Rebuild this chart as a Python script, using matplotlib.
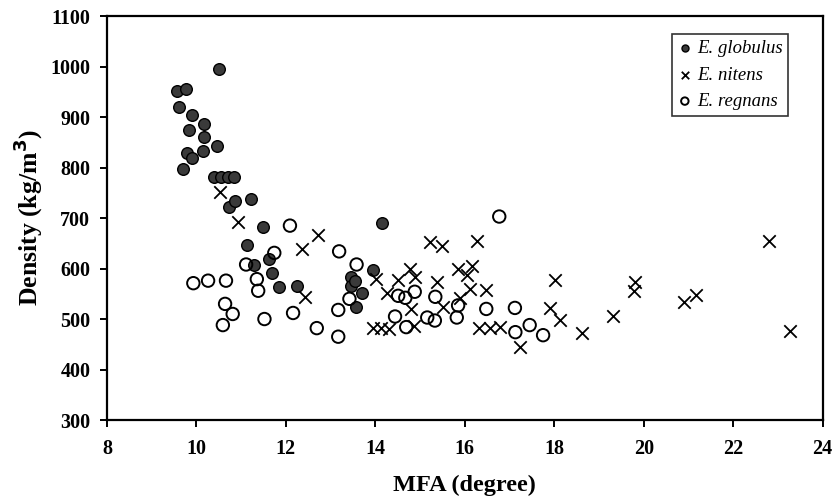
import matplotlib.pyplot as plt

plt.rcParams['font.family'] = ['Liberation Serif', 'DejaVu Serif']

# E. globulus
glob_mfa = [10.50, 9.56, 9.77, 9.61, 9.89, 10.17, 9.84, 10.17, 10.46, 10.14, 9.79, 9.91,
            9.69, 10.40, 10.55, 10.70, 10.85, 10.72, 10.86, 11.23, 11.48, 11.12, 11.28,
            11.62, 11.69, 11.84, 12.25, 13.45, 13.45, 13.55, 13.70, 13.56, 13.95, 14.14]
glob_den = [995, 952, 955, 920, 904, 887, 874, 861, 842, 833, 828, 818,
            798, 782, 782, 782, 782, 722, 733, 737, 683, 646, 607,
            618, 592, 564, 565, 584, 566, 575, 551, 524, 597, 691]

# E. nitens
nit_mfa = [10.53, 10.93, 12.72, 12.35, 12.42, 15.22, 15.50, 16.28, 15.85, 16.15, 16.04,
           14.77, 14.51, 14.88, 14.01, 14.25, 15.37, 15.89, 16.11, 16.48, 14.80, 15.52,
           13.95, 14.12, 14.30, 14.86, 16.31, 16.56, 16.78, 17.23, 18.01, 17.90, 18.12,
           18.62, 19.31, 19.80, 19.78, 20.89, 21.18, 22.80, 23.28]
nit_den = [752, 693, 666, 638, 544, 652, 645, 655, 600, 605, 587,
           600, 577, 584, 579, 551, 573, 542, 559, 557, 520, 524,
           482, 482, 480, 486, 482, 482, 485, 445, 578, 522, 498,
           472, 506, 574, 556, 534, 548, 655, 477]

# E. regnans
reg_mfa = [12.09, 13.19, 11.74, 11.11, 11.35, 11.38, 9.93, 10.26, 10.66, 10.64, 10.81,
           10.59, 11.52, 12.16, 12.69, 13.17, 13.17, 13.42, 13.58, 16.77, 14.51, 14.67,
           14.88, 15.34, 14.44, 14.69, 15.16, 15.33, 15.85, 15.82, 16.48, 17.12, 17.13,
           17.45, 17.75]
reg_den = [685, 634, 631, 608, 579, 556, 571, 576, 576, 530, 510,
           488, 500, 512, 482, 465, 518, 540, 608, 703, 546, 542,
           554, 544, 505, 484, 503, 497, 527, 503, 520, 522, 474,
           488, 468]

fig = plt.figure(figsize=(8.36, 5.03), dpi=100)
ax = fig.add_axes([0.128, 0.165, 0.856, 0.803])

ax.scatter(glob_mfa, glob_den, s=70, c='#3a3a3a', edgecolors='black', linewidths=1.0,
           label='E. globulus', zorder=3)
ax.scatter(nit_mfa, nit_den, s=80, marker='x', c='black', linewidths=1.3,
           label='E. nitens', zorder=3)
ax.scatter(reg_mfa, reg_den, s=80, facecolors='none', edgecolors='black', linewidths=1.4,
           label='E. regnans', zorder=3)

ax.set_xlim(8, 24)
ax.set_ylim(300, 1100)
ax.set_xticks(range(8, 25, 2))
ax.set_yticks(range(300, 1101, 100))

for side in ['left', 'bottom', 'top', 'right']:
    ax.spines[side].set_linewidth(1.6)

ax.tick_params(direction='out', length=5, width=1.4, labelsize=14.5)
ax.tick_params(axis='x', pad=9)
ax.tick_params(axis='y', pad=7)
for lab in ax.get_xticklabels() + ax.get_yticklabels():
    lab.set_fontweight('bold')

ax.set_xlabel('MFA (degree)', fontsize=17.5, fontweight='bold', labelpad=11)
ax.set_ylabel('Density (kg/m$^{\\mathbf{3}}$)', fontsize=18.5, fontweight='bold', labelpad=4)

leg = ax.legend(loc='upper right', bbox_to_anchor=(0.952, 0.955), frameon=True, fancybox=False,
                edgecolor='black', handlelength=0.8, handletextpad=0.25, borderpad=0.3,
                labelspacing=0.5, borderaxespad=0, markerscale=0.6,
                prop={'style': 'italic', 'size': 13.5})
leg.get_frame().set_linewidth(1.2)

fig.savefig('out.png', dpi=100)
